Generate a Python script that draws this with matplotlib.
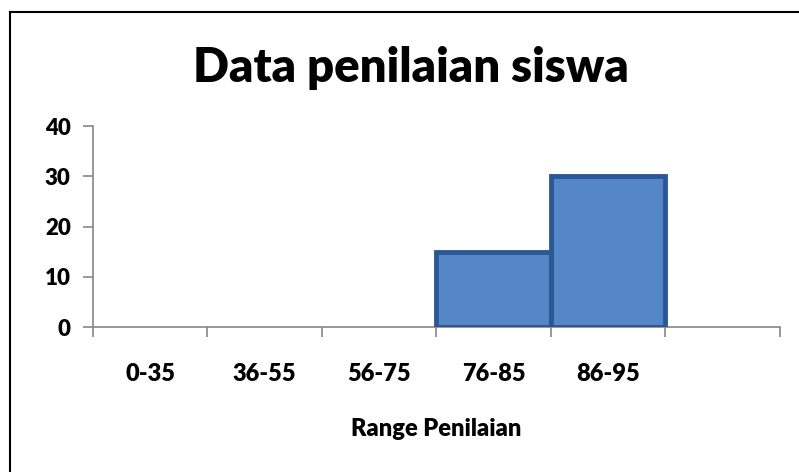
import matplotlib
matplotlib.use("Agg")
from matplotlib import pyplot as plt
from matplotlib.lines import Line2D

# data
categories = ["0-35", "36-55", "56-75", "76-85", "86-95", ""]
counts = [0, 0, 0, 15, 30, 0]
y_ticks = [0, 10, 20, 30, 40]

plt.rcParams['font.family'] = ['Lato', 'DejaVu Sans']
plt.rcParams['font.weight'] = 'bold'

fig = plt.figure(figsize=(7.99, 4.72), dpi=100)
ax = fig.add_axes([0.1164, 0.3072, 0.976 - 0.1164, 0.733 - 0.3072])

x = range(len(categories))
ax.bar([i for i in x if counts[i] > 0], [c for c in counts if c > 0], width=1.0,
       color="#5586C8", edgecolor="#2B5894", linewidth=3.5, zorder=3)

ax.set_xlim(-0.5, len(categories) - 0.5)
ax.set_ylim(0, 40)
ax.set_yticks(y_ticks)
ax.set_yticklabels([str(v) for v in y_ticks], fontsize=16, fontweight='heavy')

# tick marks at bin edges, labels centered in bins
ax.set_xticks([i - 0.5 for i in range(len(categories) + 1)])
ax.set_xticklabels([])
ax.set_xticks(list(x), minor=True)
ax.set_xticklabels(categories, minor=True, fontsize=17, fontweight='heavy')
ax.tick_params(axis='x', which='minor', length=0, pad=26)
ax.tick_params(axis='x', which='major', length=7, color="#868686", width=1.2)
ax.tick_params(axis='y', length=7, color="#868686", width=1.2, pad=9)

for s in ['top', 'right']:
    ax.spines[s].set_visible(False)
for s in ['left', 'bottom']:
    ax.spines[s].set_color("#868686")
    ax.spines[s].set_linewidth(1.2)

ax.set_xlabel("Range Penilaian", fontsize=17, fontweight='heavy', labelpad=24)
fig.text(0.514, 0.855, "Data penilaian siswa", ha='center', va='center',
         fontsize=34, fontweight='heavy')

# chart border
fig.add_artist(Line2D([0.0125, 0.0125], [0.0, 0.975], color='black', lw=1.5))
fig.add_artist(Line2D([0.0125, 1.0], [0.975, 0.975], color='black', lw=1.5))

fig.savefig("out.png", dpi=100)
